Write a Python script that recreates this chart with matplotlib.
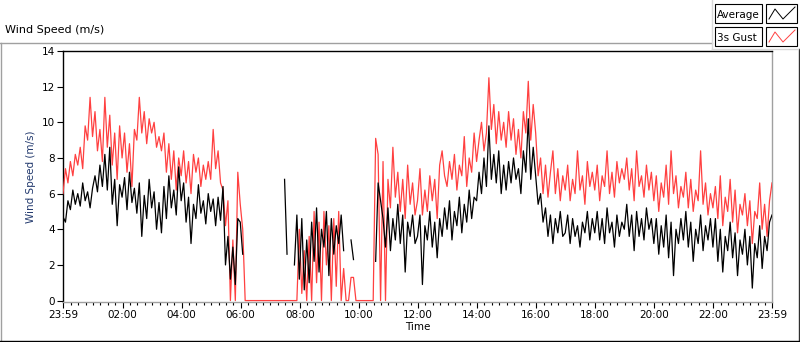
import numpy as np
import matplotlib.pyplot as plt
from matplotlib.lines import Line2D
from matplotlib.patches import Rectangle

nan = np.nan

# 5-minute samples starting 23:59, six hours per list
avg_00_06 = [4.7, 4.4, 5.6, 5.1, 6.2, 5.4,
             6.0, 5.3, 6.6, 5.6, 6.1, 5.2,
             6.3, 7.0, 6.1, 7.6, 6.4, 8.2,
             6.2, 8.6, 5.4, 6.8, 4.2, 6.5,
             5.8, 6.9, 5.1, 7.2, 5.5, 6.3,
             4.9, 6.6, 3.6, 5.9, 4.6, 6.8,
             5.2, 6.1, 4.0, 5.5, 3.8, 6.4,
             4.6, 7.0, 5.2, 6.2, 4.8, 7.5,
             5.6, 6.6, 4.4, 5.8, 3.2, 5.4,
             4.6, 6.5, 4.9, 5.6, 4.3, 6.0,
             5.0, 5.7, 4.2, 5.8, 4.5, 6.4,
             2.0, 3.6, 1.2, 3.0, 0.9, 4.6]
avg_06_12 = [4.4, 2.6] + [nan] * 16 + [6.8, 2.6, nan, nan] + \
            [2.0, 4.8, 1.2, 4.6, 0.6, 3.4, 1.0, 4.4, 2.2, 5.2, 1.6,
             4.0, 3.0, 5.0, 1.4, 4.6, 2.6, 4.2, 3.2, 4.8, 2.8] + \
            [nan, nan, 3.4, 2.3] + [nan] * 8 + \
            [2.2, 6.6, 5.6, 4.6, 3.0, 5.2, 2.8, 4.6, 3.4, 5.4, 3.2, 4.8,
             1.6, 4.4, 3.6, 4.8, 3.2]
avg_12_18 = [3.6, 4.8, 0.9, 4.2, 3.4, 5.0, 3.0, 4.4, 2.4, 4.6, 3.6, 5.2,
             4.0, 5.6, 3.4, 5.0, 4.2, 5.8, 3.8, 5.4, 4.4, 6.2, 4.6, 5.8,
             5.6, 7.2, 6.0, 8.0, 6.4, 9.8, 6.8, 8.2, 6.6, 8.4, 6.0, 7.6,
             6.2, 7.8, 6.6, 8.0, 6.8, 7.4, 6.0, 8.4, 7.2, 10.2, 6.8, 8.6,
             7.0, 5.4, 6.0, 4.4, 5.2, 3.6, 4.8, 3.2, 4.6, 3.8, 5.0, 3.6,
             3.8, 4.8, 3.2, 4.6, 3.6, 4.2, 3.0, 4.4, 3.8, 5.0, 3.4, 4.6]
avg_18_24 = [3.8, 5.0, 3.4, 4.6, 3.2, 5.2, 3.8, 4.4, 3.0, 4.8, 3.6, 4.4,
             4.0, 5.4, 3.6, 4.8, 2.8, 5.0, 3.6, 4.6, 3.4, 5.2, 4.0, 4.6,
             3.2, 4.6, 2.6, 4.2, 3.0, 4.8, 2.4, 4.4, 1.4, 4.0, 3.2, 4.6,
             3.4, 5.0, 3.0, 4.4, 2.2, 4.0, 3.2, 4.8, 2.8, 4.2, 3.4, 4.6,
             3.0, 4.6, 2.2, 4.0, 1.6, 3.6, 2.8, 4.4, 2.4, 3.8, 1.4, 3.4,
             2.6, 4.0, 2.0, 3.6, 0.7, 3.2, 2.4, 4.2, 1.8, 3.6, 2.8, 4.4, 4.8]

gust_00_06 = [6.0, 7.4, 6.6, 7.8, 7.0, 8.2,
              7.6, 8.6, 7.4, 9.8, 9.0, 11.4,
              9.2, 10.6, 8.4, 9.6, 7.8, 11.4,
              8.6, 10.4, 7.6, 9.4, 6.8, 9.8,
              8.0, 9.4, 7.2, 8.8, 6.4, 9.6,
              9.0, 11.4, 9.4, 10.6, 8.8, 10.2,
              9.4, 10.0, 8.6, 9.2, 8.4, 9.4,
              7.2, 8.8, 6.8, 8.4, 6.2, 8.0,
              7.0, 8.4, 6.6, 7.8, 6.0, 8.2,
              7.2, 8.0, 6.4, 7.6, 6.8, 7.8,
              6.8, 9.6, 7.4, 8.4, 6.6, 6.2,
              4.2, 5.6, 0.0, 3.4, 0.0, 7.2]
gust_06_12 = [5.4, 4.0] + [0.0] * 21 + \
             [0.0, 4.0, 0.4, 2.8, 0.0, 3.6, 0.0, 5.0, 1.0, 4.4,
              0.0, 5.0, 2.0, 4.2, 0.0, 4.6, 0.8, 5.0, 0.0, 1.8] + \
             [0.0, 0.0, 1.3, 1.3] + [0.0] * 8 + \
             [9.1, 8.2, 0.0, 7.8, 0.0, 6.8, 5.2, 8.6, 5.8, 7.2, 5.0, 6.8,
              4.6, 7.6, 5.4, 6.6, 4.8]
gust_12_18 = [5.6, 7.4, 4.8, 6.2, 5.0, 7.0, 5.6, 6.8, 4.6, 7.6, 8.4, 7.0,
              6.4, 7.8, 6.8, 8.2, 6.2, 7.6, 7.0, 9.2, 6.4, 8.0, 7.2, 9.4,
              7.8, 9.0, 10.0, 8.4, 9.4, 12.5, 9.6, 11.0, 8.8, 10.6, 9.0, 10.0,
              8.6, 10.6, 9.0, 10.2, 8.2, 9.6, 8.0, 10.6, 9.4, 12.3, 9.0, 11.0,
              9.4, 7.0, 8.0, 6.0, 7.6, 5.8, 7.2, 8.4, 6.0, 7.4, 5.6, 7.0,
              6.2, 7.6, 5.6, 6.8, 6.0, 8.4, 6.2, 7.0, 5.4, 7.8, 6.4, 7.2]
gust_18_24 = [6.2, 7.6, 5.6, 7.0, 6.4, 8.4, 6.0, 7.2, 5.8, 7.8, 6.6, 7.4,
              6.8, 8.0, 6.2, 7.4, 5.6, 8.4, 6.4, 7.0, 5.8, 7.6, 6.2, 7.2,
              5.6, 7.0, 5.0, 6.6, 5.8, 7.6, 5.4, 8.4, 6.0, 7.0, 5.2, 6.4,
              5.8, 7.2, 5.2, 6.8, 5.0, 6.2, 5.6, 8.4, 5.4, 6.6, 4.8, 6.0,
              5.2, 6.4, 4.6, 7.0, 4.2, 5.8, 5.0, 6.8, 4.4, 6.2, 3.8, 5.4,
              4.8, 6.0, 4.2, 5.6, 3.2, 5.0, 4.6, 6.6, 4.0, 5.4, 3.6, 5.6, 6.6]

tick_hours = [-1 / 60, 2, 4, 6, 8, 10, 12, 14, 16, 18, 20, 22, 24 - 1 / 60]
tick_labels = ['23:59', '02:00', '04:00', '06:00', '08:00', '10:00', '12:00',
               '14:00', '16:00', '18:00', '20:00', '22:00', '23:59']

avg = np.array(avg_00_06 + avg_06_12 + avg_12_18 + avg_18_24)
gust = np.array(gust_00_06 + gust_06_12 + gust_12_18 + gust_18_24)
hours = -1 / 60 + np.arange(len(avg)) * 5 / 60

plt.rcParams['font.family'] = ['DejaVu Sans']
plt.rcParams['font.size'] = 7.5

W, H = 800, 342
fig = plt.figure(figsize=(W / 100, H / 100), dpi=100)
ax = fig.add_axes([63 / W, 40 / H, 709 / W, 251 / H])

ax.plot(hours, gust, color='#ff4040', lw=0.9, zorder=3)
ax.plot(hours, avg, color='black', lw=0.9, zorder=4)

ax.set_xlim(-1 / 60, 24 - 1 / 60)
ax.set_ylim(-0.08, 14)
ax.set_yticks(range(0, 15, 2))
ax.set_xticks(tick_hours)
ax.set_xticklabels(tick_labels)
ax.set_xticks([m for m in np.arange(0.25, 24, 0.25) if m % 2 != 0], minor=True)
ax.tick_params(axis='both', which='major', direction='out', length=4, width=0.8,
               colors='black', labelsize=7.5, pad=2)
ax.tick_params(axis='x', which='minor', direction='out', length=2.5, width=0.8)
ax.set_xlabel('Time', labelpad=1)
ax.set_ylabel('Wind Speed (m/s)', color='#233a6e', labelpad=4)

for s in ['top', 'left']:
    ax.spines[s].set_color('black')
    ax.spines[s].set_linewidth(1.0)
for s in ['right', 'bottom']:
    ax.spines[s].set_color('#a0a0a0')
    ax.spines[s].set_linewidth(1.0)


def px(x, y):
    return x / W, 1 - y / H


def frame_line(x0, y0, x1, y1, color, lw=1.0):
    (a, b), (c, d) = px(x0, y0), px(x1, y1)
    fig.add_artist(Line2D([a, c], [b, d], color=color, lw=lw))


# outer panel frame
frame_line(0, 42.5, 712, 42.5, '#a0a0a0')
frame_line(1, 42.5, 1, 342, '#a0a0a0')
frame_line(798.5, 49, 798.5, 342, '#303030')
frame_line(0, 341, 800, 341, 'black')
frame_line(712, 0, 712, 48.5, '#d8d8d8')
frame_line(712, 48.5, 798, 48.5, '#d8d8d8')

fig.text(5 / W, 1 - 33 / H, 'Wind Speed (m/s)', ha='left', va='baseline', fontsize=8)

# legend boxes
for i, (name, color) in enumerate([('Average', 'black'), ('3s Gust', '#ff4040')]):
    top = 4 + i * 23
    x0, y0 = px(715, top + 19)
    fig.add_artist(Rectangle((x0, y0), 47 / W, 19 / H, transform=fig.transFigure,
                             facecolor='white', edgecolor='black', lw=0.8))
    fig.text(717 / W, 1 - (top + 14) / H, name, ha='left', va='baseline', fontsize=7.5)
    sx, sy = px(766, top + 19)
    fig.add_artist(Rectangle((sx, sy), 31 / W, 19 / H, transform=fig.transFigure,
                             facecolor='white', edgecolor='black', lw=0.8))
    zx = [769, 775, 783, 795]
    zy = [top + 15, top + 5, top + 15, top + 3]
    fig.add_artist(Line2D([x / W for x in zx], [1 - y / H for y in zy],
                          color=color, lw=0.7))

fig.savefig('out.png', dpi=100)
